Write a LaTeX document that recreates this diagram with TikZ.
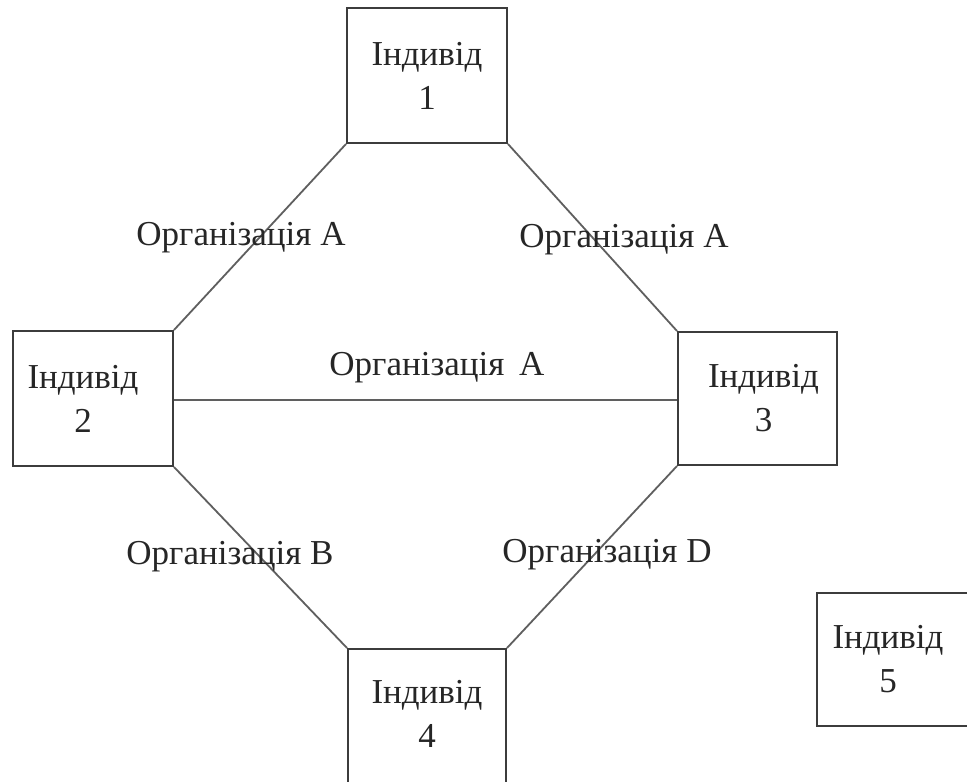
\documentclass[tikz,border=0pt]{standalone}
\usepackage{fontspec}
\setmainfont{Liberation Serif}
\definecolor{lineclr}{RGB}{95,95,95}
\definecolor{boxclr}{RGB}{60,60,60}
\tikzset{
  indbox/.style={draw=boxclr, line width=2pt, fill=white, minimum width=160pt, minimum height=135pt, inner sep=0pt, align=center, font=\fontsize{35}{44}\selectfont, text=black!85},
  link/.style={draw=lineclr, line width=1.8pt},
  orglabel/.style={inner sep=0pt, font=\fontsize{35}{40}\selectfont, text=black!85}
}
\begin{document}
\begin{tikzpicture}[x=1pt,y=-1pt]
\clip (0,0) rectangle (967,782);
\fill[white] (0,0) rectangle (967,782);
% boxes
\node[indbox] (n1) at (427,75.5) {Індивід\\1};
\node[indbox] (n2) at (93,398.5) {\hspace*{-20pt}Індивід\\\hspace*{-20pt}2};
\node[indbox, minimum width=159pt, minimum height=133pt] (n3) at (757.5,398.5) {\hspace*{12pt}Індивід\\\hspace*{12pt}3};
\node[indbox, minimum width=158pt] (n4) at (427,716.5) {\raisebox{5pt}{\begin{tabular}{@{}c@{}}Індивід\\4\end{tabular}}};
\node[indbox, minimum height=133pt] (n5) at (897,659.5) {\hspace*{-18pt}Індивід\\\hspace*{-18pt}5};
% connectors
\draw[link] (n1.south west) -- (n2.north east);
\draw[link] (n1.south east) -- (n3.north west);
\draw[link] ([yshift=-1.5pt]n2.east) -- ([yshift=-1.5pt]n3.west);
\draw[link] (n2.south east) -- (n4.north west);
\draw[link] (n3.south west) -- (n4.north east);
% labels
\node[orglabel] (l12) at (241,238) {Організація A};
\node[orglabel] (l13) at (624,240) {Організація A};
\node[orglabel] (l23) at (437,368) {Організація\hspace{6pt} A};
\node[orglabel] (l24) at (230,557) {Організація B};
\node[orglabel] (l34) at (607,555) {Організація D};
\end{tikzpicture}
\end{document}
